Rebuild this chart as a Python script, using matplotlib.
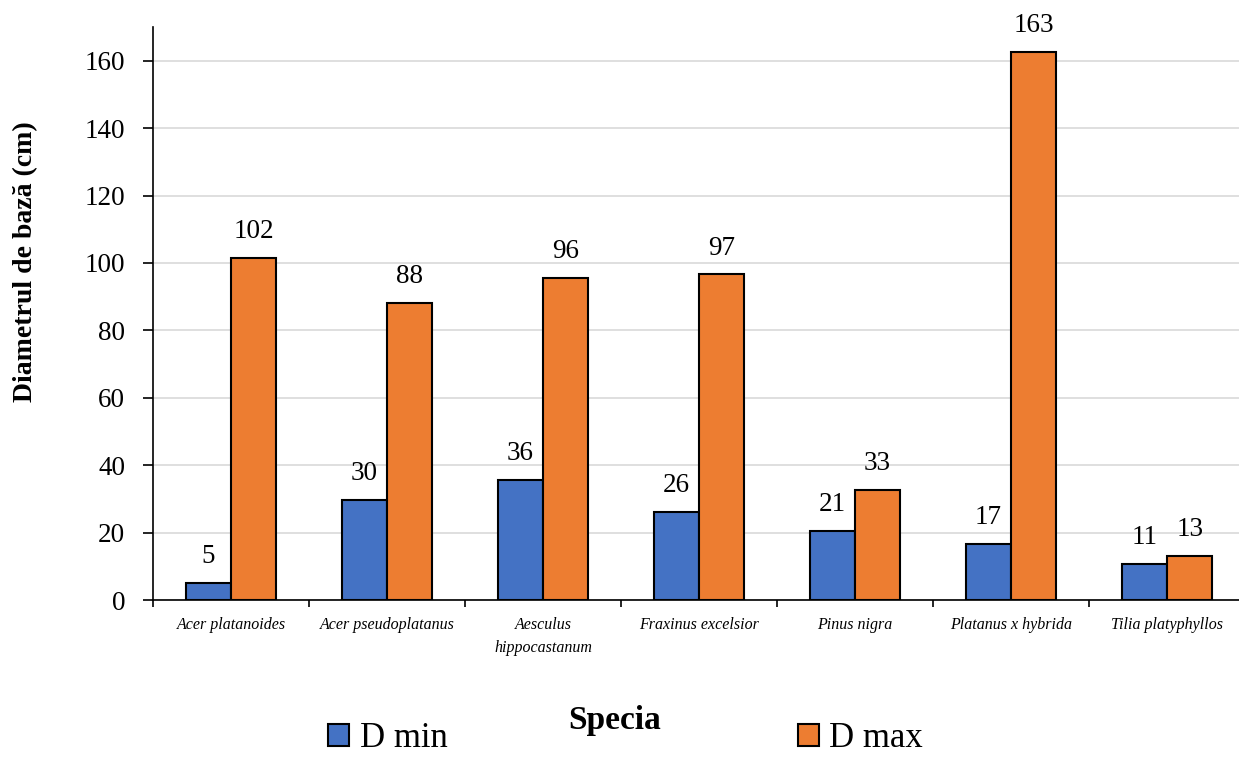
import numpy as np
import matplotlib
matplotlib.use("Agg")
import matplotlib.pyplot as plt

species = ["Acer platanoides", "Acer pseudoplatanus", "Aesculus\nhippocastanum",
           "Fraxinus excelsior", "Pinus nigra", "Platanus x hybrida", "Tilia platyphyllos"]
d_min = [5.0, 29.7, 35.5, 26.2, 20.6, 16.6, 10.6]
d_max = [101.5, 88.0, 95.6, 96.6, 32.7, 162.6, 13.0]

plt.rcParams["font.family"] = ["Liberation Serif", "DejaVu Serif"]

fig = plt.figure(figsize=(12.39, 7.58), dpi=100)
ax = fig.add_axes([153 / 1239, 158 / 758, 1092 / 1239, 573 / 758])

x = np.arange(len(species))
w = 0.29
b1 = ax.bar(x - w / 2, d_min, w, color="#4472C4", edgecolor="black", linewidth=1.5,
            label="D min", zorder=3)
b2 = ax.bar(x + w / 2, d_max, w, color="#ED7D31", edgecolor="black", linewidth=1.5,
            label="D max", zorder=3)

for bars in (b1, b2):
    for rect in bars:
        h = rect.get_height()
        ax.annotate(f"{h:.0f}", (rect.get_x() + rect.get_width() / 2, h),
                    xytext=(0, 10), textcoords="offset points",
                    ha="center", va="bottom", fontsize=19.5)

ax.set_xlim(-0.5, len(species) - 0.5)
ax.set_ylim(0, 170)
ax.set_yticks(range(0, 161, 20))
ax.tick_params(axis="y", labelsize=19.5, length=7, width=1.2, direction="out", pad=13)
ax.grid(axis="y", color="#d9d9d9", linewidth=1.2, zorder=0)

ax.set_xticks(x)
ax.set_xticklabels(species, fontsize=11.5, style="italic", linespacing=1.6)
ax.tick_params(axis="x", length=0, pad=12)
ax.set_xticks(np.arange(-0.5, len(species), 1), minor=True)
ax.tick_params(axis="x", which="minor", length=5, width=1.2)

for s in ("top", "right"):
    ax.spines[s].set_visible(False)
ax.spines["left"].set_linewidth(1.2)
ax.spines["bottom"].set_linewidth(1.2)

ax.set_ylabel("Diametrul de bază (cm)", fontsize=20, fontweight="bold")
ax.yaxis.set_label_coords(-0.105, 0.59)
fig.text(0.496, 0.05, "Specia", fontsize=24, fontweight="bold", ha="center", va="center")

fig.legend(handles=[b1, b2], loc="lower center", bbox_to_anchor=(0.505, -0.037), ncol=2,
           frameon=False, fontsize=25, columnspacing=10.1, handlelength=0.6,
           handleheight=0.6, handletextpad=0.3)

fig.savefig("out.png", dpi=100)
